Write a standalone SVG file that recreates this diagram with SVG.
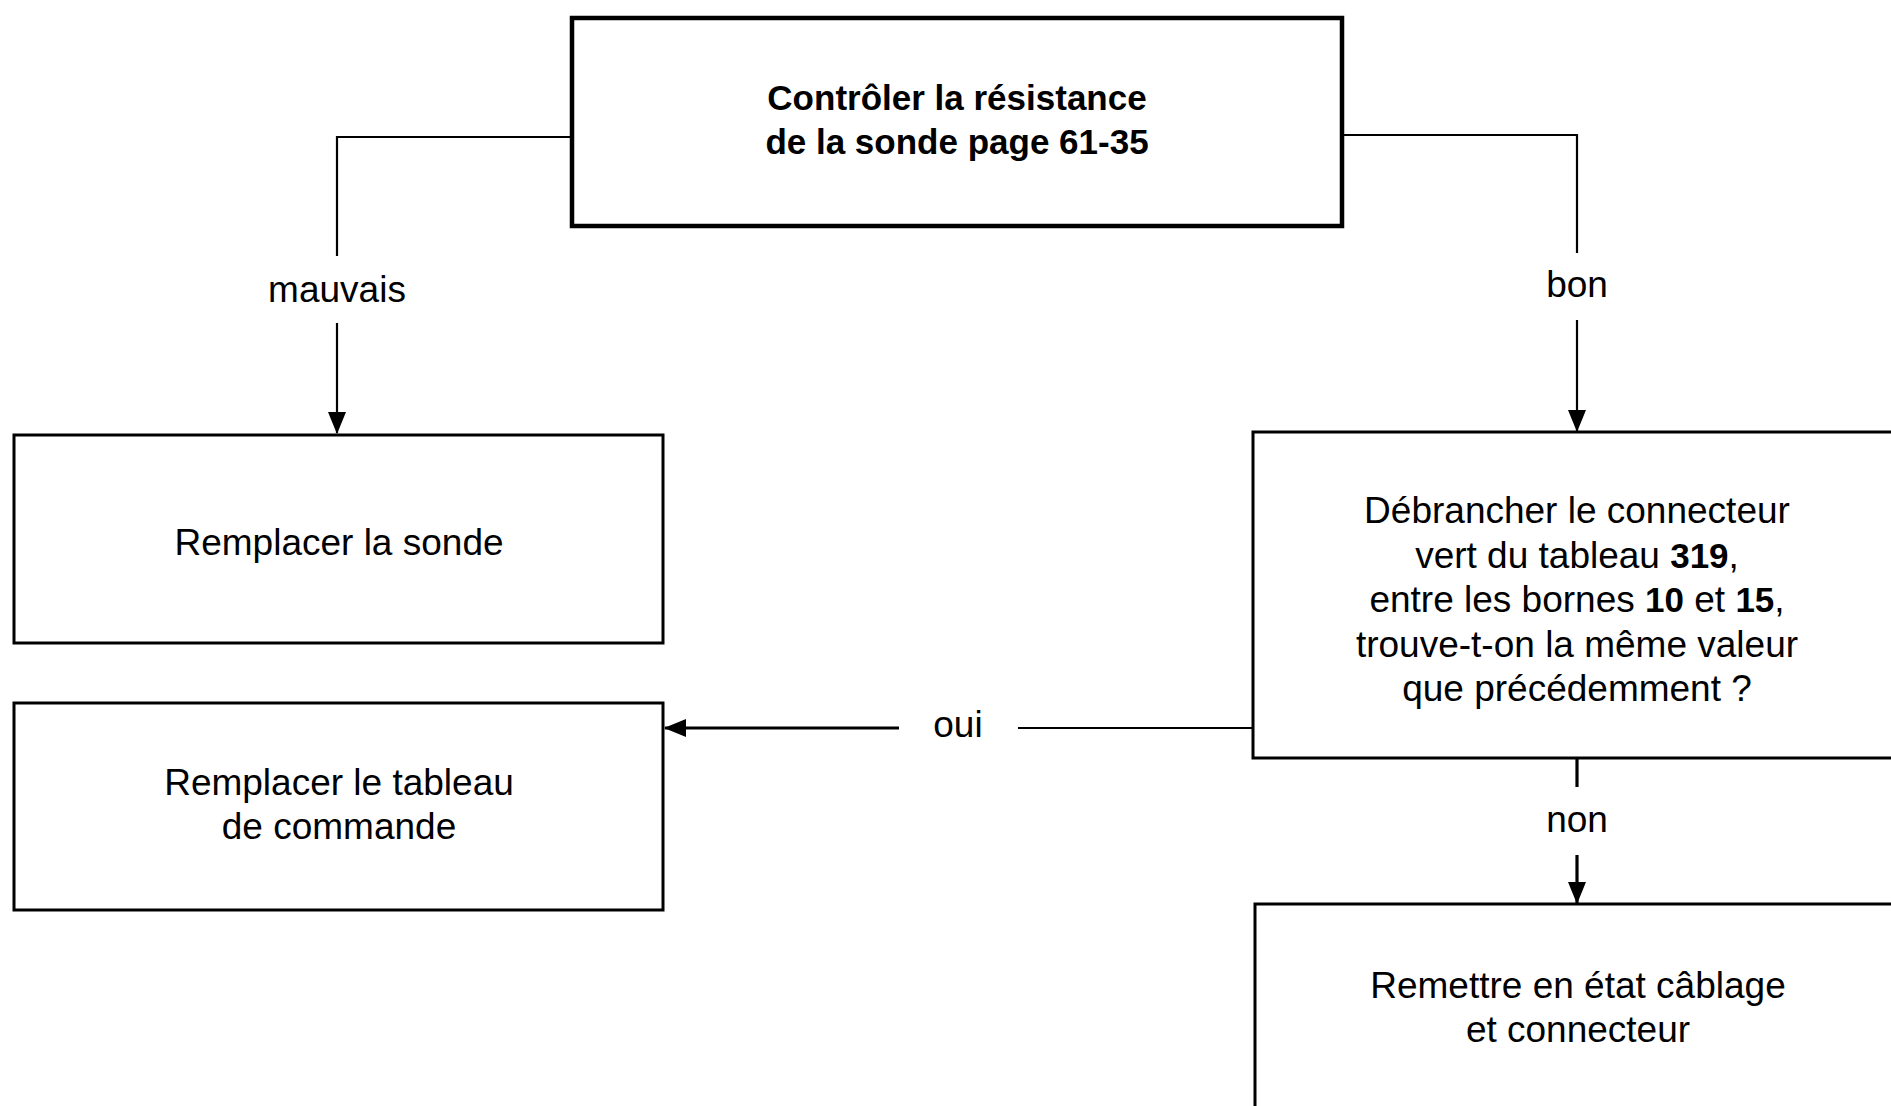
<svg xmlns="http://www.w3.org/2000/svg" width="1891" height="1106" viewBox="0 0 1891 1106">
  <style>
    .box { fill: #fff; stroke: #000; stroke-width: 3; }
    .box-main { fill: #fff; stroke: #000; stroke-width: 4.5; }
    .txt { font-family: "Liberation Sans", Arial, sans-serif; font-size: 37px; fill: #000; text-anchor: middle; }
    .bold { font-weight: bold; font-size: 35px; }
    .wire { fill: none; stroke: #000; stroke-width: 2.2; }
    .wire-thick { fill: none; stroke: #000; stroke-width: 3.2; }
  </style>
  <defs>
    <marker id="arrow" viewBox="0 0 22 18" refX="21" refY="9" markerWidth="22" markerHeight="18" markerUnits="userSpaceOnUse" orient="auto">
      <path d="M0,0 L22,9 L0,18 Z" fill="#000"/>
    </marker>
  </defs>

  <rect width="1891" height="1106" fill="#fff"/>

  <!-- connectors -->
  <g id="connectors">
    <!-- mauvais -->
    <polyline class="wire" points="572,137 337,137 337,256"/>
    <line class="wire" x1="337" y1="323" x2="337" y2="433" marker-end="url(#arrow)"/>
    <text class="txt" x="337" y="302">mauvais</text>
    <!-- bon -->
    <polyline class="wire" points="1342,135 1577,135 1577,253"/>
    <line class="wire" x1="1577" y1="320" x2="1577" y2="431" marker-end="url(#arrow)"/>
    <text class="txt" x="1577" y="297">bon</text>
    <!-- oui -->
    <line class="wire" x1="1253" y1="728" x2="1018" y2="728"/>
    <line class="wire-thick" x1="899" y1="728" x2="665" y2="728" marker-end="url(#arrow)"/>
    <text class="txt" x="958" y="737">oui</text>
    <!-- non -->
    <line class="wire-thick" x1="1577" y1="759" x2="1577" y2="787"/>
    <line class="wire-thick" x1="1577" y1="855" x2="1577" y2="903" marker-end="url(#arrow)"/>
    <text class="txt" x="1577" y="832">non</text>
  </g>

  <!-- check probe resistance -->
  <g id="node-controle">
    <rect class="box-main" x="572" y="18" width="770" height="208"/>
    <text class="txt bold" x="957" y="110">Contrôler la résistance</text>
    <text class="txt bold" x="957" y="154">de la sonde page 61-35</text>
  </g>

  <!-- replace probe -->
  <g id="node-sonde">
    <rect class="box" x="14" y="435" width="649" height="208"/>
    <text class="txt" x="339" y="555">Remplacer la sonde</text>
  </g>

  <!-- replace control panel -->
  <g id="node-tableau">
    <rect class="box" x="14" y="703" width="649" height="207"/>
    <text class="txt" x="339" y="795">Remplacer le tableau</text>
    <text class="txt" x="339" y="839">de commande</text>
  </g>

  <!-- disconnect connector -->
  <g id="node-debrancher">
    <rect class="box" x="1253" y="432" width="660" height="326"/>
    <text class="txt" x="1577" y="523">Débrancher le connecteur</text>
    <text class="txt" x="1577" y="568">vert du tableau <tspan class="bold">319</tspan>,</text>
    <text class="txt" x="1577" y="612">entre les bornes <tspan class="bold">10</tspan> et <tspan class="bold">15</tspan>,</text>
    <text class="txt" x="1577" y="657">trouve-t-on la même valeur</text>
    <text class="txt" x="1577" y="701">que précédemment ?</text>
  </g>

  <!-- repair wiring -->
  <g id="node-remettre">
    <rect class="box" x="1255" y="904" width="660" height="230"/>
    <text class="txt" x="1578" y="998">Remettre en état câblage</text>
    <text class="txt" x="1578" y="1042">et connecteur</text>
  </g>
</svg>
